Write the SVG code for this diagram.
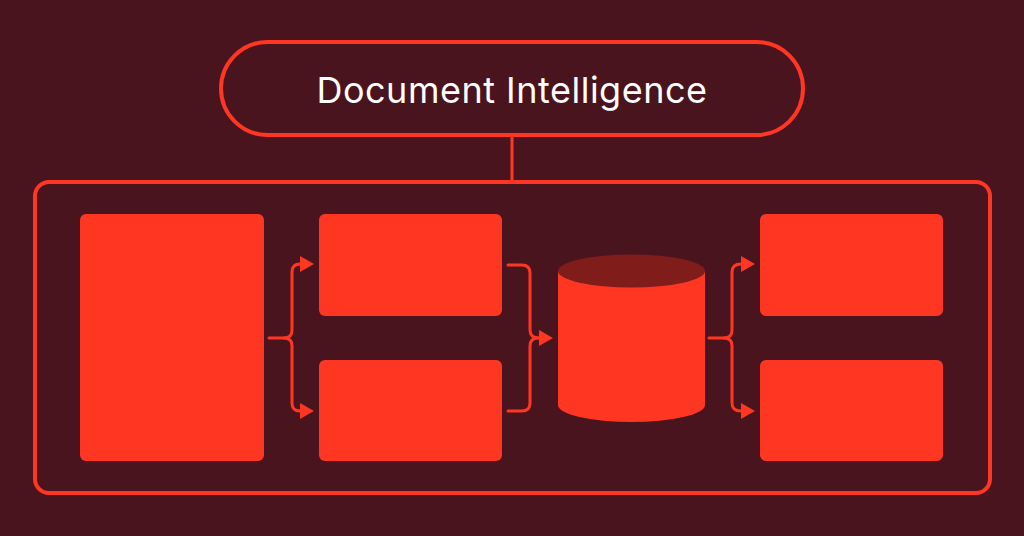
<svg xmlns="http://www.w3.org/2000/svg" width="1024" height="536" viewBox="0 0 1024 536">
<defs>
<style>
.frame{fill:none;stroke:#ff3621;stroke-width:4}
.box{fill:#ff3621}
.conn{fill:none;stroke:#ff3621;stroke-width:3;stroke-linecap:round}
.title{font-family:Inter,"Noto Sans","Liberation Sans",sans-serif;font-size:36px;fill:#ffffff;text-anchor:middle;letter-spacing:0.5px}
</style>
<marker id="arr" markerUnits="userSpaceOnUse" viewBox="0 0 14 16" refX="0" refY="8" markerWidth="14" markerHeight="16" orient="auto">
<path d="M0,0 L14,8 L0,16 Z" fill="#ff3621"/>
</marker>
</defs>
<rect width="1024" height="536" fill="#4a141e"/>
<g id="title-node">
<rect class="frame" x="221" y="42" width="582" height="93" rx="46.5"/>
<text class="title" x="512" y="103">Document Intelligence</text>
</g>
<g id="container">
<rect class="frame" x="35" y="182" width="955" height="311" rx="14"/>
</g>
<g id="source"><rect class="box" x="80" y="214" width="184" height="247" rx="6"/></g>
<g id="proc-top"><rect class="box" x="319" y="214" width="183" height="102" rx="6"/></g>
<g id="proc-bottom"><rect class="box" x="319" y="360" width="183" height="101" rx="6"/></g>
<g id="database">
<path class="box" d="M558,271 V405 A73.5,17 0 0 0 705,405 V271 Z"/>
<ellipse cx="631.5" cy="271" rx="73.5" ry="16.5" fill="#801c1a"/>
</g>
<g id="out-top"><rect class="box" x="760" y="214" width="183" height="102" rx="6"/></g>
<g id="out-bottom"><rect class="box" x="760" y="360" width="183" height="101" rx="6"/></g>
<g id="connectors">
<line class="conn" x1="512" y1="135" x2="512" y2="182"/>
<path class="conn" d="M269,338 H284 Q292,338 292,330 V272 Q292,264 300,264" marker-end="url(#arr)"/>
<path class="conn" d="M284,338 Q292,338 292,346 V403 Q292,411 300,411" marker-end="url(#arr)"/>
<path class="conn" d="M508,265 H522 Q530,265 530,273 V330 Q530,338 539,338" marker-end="url(#arr)"/>
<path class="conn" d="M508,411 H522 Q530,411 530,403 V346 Q530,338 538,338"/>
<path class="conn" d="M709,338 H724 Q732,338 732,330 V272 Q732,264 741,264" marker-end="url(#arr)"/>
<path class="conn" d="M724,338 Q732,338 732,346 V403 Q732,411 741,411" marker-end="url(#arr)"/>
</g>
</svg>
